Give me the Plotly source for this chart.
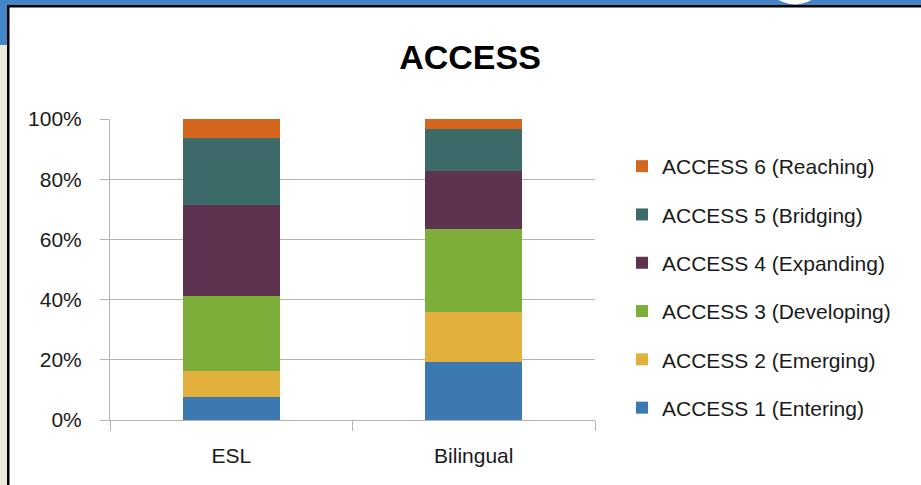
import plotly.graph_objects as go

categories = ["ESL", "Bilingual"]
series_names = [
    "ACCESS 1 (Entering)",
    "ACCESS 2 (Emerging)",
    "ACCESS 3 (Developing)",
    "ACCESS 4 (Expanding)",
    "ACCESS 5 (Bridging)",
    "ACCESS 6 (Reaching)",
]
esl_values = [7.5, 8.9, 24.7, 30.2, 22.3, 6.4]
bilingual_values = [19.4, 16.6, 27.4, 19.4, 13.8, 3.4]
colors = ["#3D79B1", "#E1B03D", "#7CAE39", "#5D3350", "#3D6B6A", "#D5661E"]
y_ticks = [0, 20, 40, 60, 80, 100]
y_tick_labels = [f"{v}%" for v in y_ticks]

W, H = 921, 485
L, R, T, B = 110, 595, 119, 420


def px(x):
    return (x - L) / (R - L)


def py(y):
    return (B - y) / (B - T)


fig = go.Figure()
n = len(series_names)
for i, name in enumerate(series_names):
    fig.add_trace(go.Bar(
        x=categories,
        y=[esl_values[i], bilingual_values[i]],
        name=name,
        legendgroup=name,
        legendrank=n - i,
        marker=dict(color=colors[i], line=dict(width=0)),
    ))

font_family = "Liberation Sans, Arial, sans-serif"
shapes = [
    dict(type="rect", xref="paper", yref="paper", x0=px(-2), x1=px(W + 2), y0=py(5.5), y1=py(-2),
         fillcolor="#4485C7", line=dict(width=0), layer="below"),
    dict(type="rect", xref="paper", yref="paper", x0=px(-2), x1=px(7.5), y0=py(45), y1=py(-2),
         fillcolor="#4485C7", line=dict(width=0), layer="below"),
    dict(type="rect", xref="paper", yref="paper", x0=px(-2), x1=px(7.5), y0=py(H + 2), y1=py(45),
         fillcolor="#EEEADB", line=dict(width=0), layer="below"),
    dict(type="rect", xref="paper", yref="paper", x0=px(7), x1=px(W + 2), y0=py(7.5), y1=py(5),
         fillcolor="#000000", line=dict(width=0), layer="below"),
    dict(type="rect", xref="paper", yref="paper", x0=px(7), x1=px(9.5), y0=py(H + 2), y1=py(5),
         fillcolor="#000000", line=dict(width=0), layer="below"),
    dict(type="circle", xref="paper", yref="paper", x0=px(763), x1=px(827), y0=py(4.5), y1=py(-59),
         fillcolor="#FFFFFF", line=dict(width=0), layer="below"),
]

fig.update_layout(
    width=W, height=H,
    margin=dict(l=L, r=W - R, t=T, b=H - B, pad=0),
    paper_bgcolor="white",
    plot_bgcolor="white",
    barmode="stack",
    bargap=0.6,
    title=dict(
        text="<b>ACCESS</b>",
        x=470 / W, xanchor="center", xref="container",
        y=1 - 57 / H, yanchor="middle", yref="container",
        font=dict(family=font_family, size=34, color="#000000"),
    ),
    showlegend=True,
    legend=dict(
        x=px(622), xanchor="left",
        y=py(287), yanchor="middle",
        traceorder="grouped",
        tracegroupgap=18,
        font=dict(family=font_family, size=21, color="#1A1A1A"),
        bgcolor="rgba(0,0,0,0)",
    ),
    xaxis=dict(
        type="category",
        tickson="boundaries",
        ticks="outside", ticklen=10, tickcolor="#B4B4B4", tickwidth=1,
        showline=True, linecolor="#B4B4B4", linewidth=1,
        showgrid=False,
        tickfont=dict(family=font_family, size=21, color="#1A1A1A"),
        ticklabelstandoff=17,
    ),
    yaxis=dict(
        range=[0, 100],
        tickmode="array",
        tickvals=y_ticks,
        ticktext=y_tick_labels,
        ticks="outside", ticklen=9, tickcolor="#B4B4B4", tickwidth=1,
        showline=True, linecolor="#B4B4B4", linewidth=1,
        showgrid=True, gridcolor="#B4B4B4", gridwidth=1,
        zeroline=False,
        tickfont=dict(family=font_family, size=21, color="#1A1A1A"),
        ticklabelstandoff=14,
    ),
    shapes=shapes,
)

fig.write_html(
    "out.html",
    config={"displayModeBar": False},
    post_script="document.body.style.margin='0px';",
)
